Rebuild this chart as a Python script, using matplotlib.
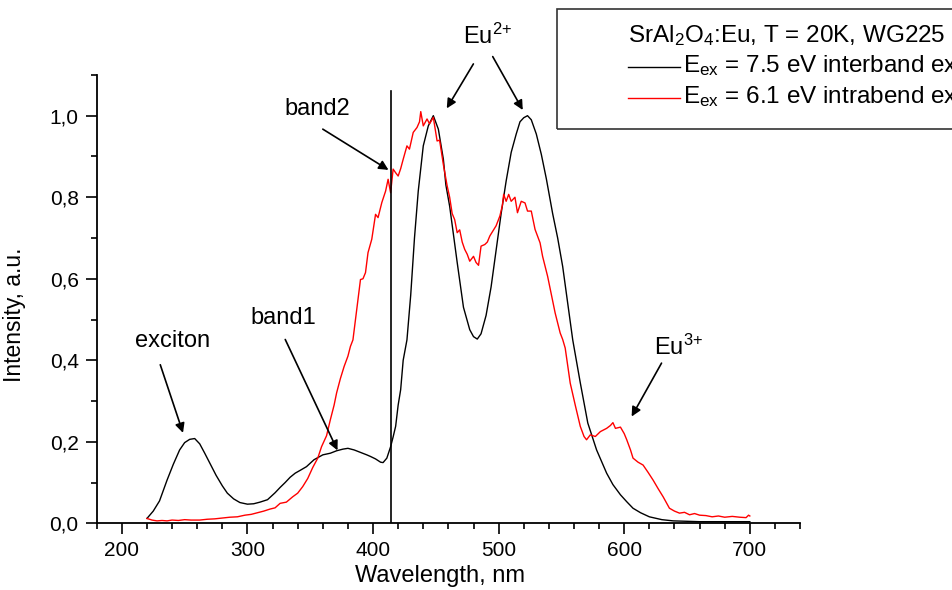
import numpy as np
import matplotlib
matplotlib.use("Agg")
import matplotlib.pyplot as plt
from matplotlib.patches import Rectangle
from matplotlib.lines import Line2D
from matplotlib.ticker import MultipleLocator, FuncFormatter

plt.rcParams['font.family'] = ['Liberation Sans', 'DejaVu Sans']
plt.rcParams['mathtext.fontset'] = 'custom'
plt.rcParams['mathtext.rm'] = 'Liberation Sans'
plt.rcParams['mathtext.it'] = 'Liberation Sans:italic'

# interband excitation, 7.5 eV (black)
wl_inter = [220, 225, 230, 236, 241, 246, 250, 254, 258, 262, 266, 270, 275, 280, 284,
            289, 294, 300, 305, 310, 316, 322, 326, 330, 334, 338, 342, 347, 353, 360,
            366, 371, 376, 380, 385, 390, 395, 398, 402, 406, 408, 411, 414, 416, 418,
            420, 422, 424, 427, 430, 433, 436, 440, 444, 448, 452, 456, 458, 461, 467,
            472, 477, 480, 483, 486, 490, 494, 498, 502, 506, 510, 514, 517, 520, 523,
            526, 530, 534, 538, 543, 547, 551, 555, 559, 565, 571, 578, 586, 591, 597,
            602, 607, 613, 620, 630, 639, 650, 660, 680, 700]
int_inter = [0.012, 0.030, 0.055, 0.106, 0.145, 0.180, 0.198, 0.206, 0.208, 0.195, 0.172, 0.148,
             0.118, 0.092, 0.074, 0.060, 0.051, 0.047, 0.048, 0.052, 0.058, 0.075, 0.088, 0.100,
             0.113, 0.123, 0.130, 0.139, 0.156, 0.168, 0.172, 0.178, 0.182, 0.184, 0.180, 0.174,
             0.168, 0.164, 0.158, 0.150, 0.149, 0.160, 0.188, 0.212, 0.238, 0.290, 0.328, 0.400,
             0.450, 0.560, 0.700, 0.815, 0.926, 0.975, 1.000, 0.967, 0.893, 0.830, 0.778, 0.640,
             0.530, 0.475, 0.458, 0.452, 0.465, 0.510, 0.580, 0.670, 0.760, 0.840, 0.910, 0.955,
             0.985, 0.995, 1.000, 0.990, 0.955, 0.905, 0.845, 0.760, 0.700, 0.630, 0.540, 0.450,
             0.345, 0.246, 0.180, 0.123, 0.095, 0.070, 0.053, 0.037, 0.026, 0.016, 0.009, 0.006,
             0.005, 0.004, 0.004, 0.004]

# intraband excitation, 6.1 eV (red)
wl_intra = [220, 224, 228, 232, 236, 240, 245, 250, 255, 262, 268, 274, 280, 286, 292, 298,
            303, 308, 313, 318, 322, 326, 331, 336, 340, 344, 348, 352, 356, 359, 363, 366,
            369, 371, 374, 377, 380, 382, 384, 386, 388, 390, 392, 394, 396, 399, 402, 404,
            407, 410, 412, 414, 416, 418, 420, 422, 424, 427, 429, 432, 435, 437, 438, 440,
            443, 445, 448, 451, 453, 456, 459, 461, 463, 465, 467, 469, 471, 473, 475, 477,
            480, 482, 484, 486, 489, 491, 493, 496, 498, 501, 503, 504, 506, 508, 510, 513,
            515, 518, 521, 523, 526, 529, 533, 535, 539, 542, 545, 549, 551, 553, 557, 561,
            565, 568, 570, 573, 577, 581, 586, 589, 591, 593, 597, 600, 602, 605, 607, 611,
            615, 619, 623, 627, 631, 634, 636, 640, 644, 648, 652, 656, 660, 665, 670, 675,
            680, 686, 692, 697, 699, 700]
int_intra = [0.012, 0.008, 0.006, 0.007, 0.006, 0.008, 0.007, 0.009, 0.008, 0.008, 0.010, 0.011,
             0.013, 0.015, 0.016, 0.020, 0.022, 0.026, 0.030, 0.035, 0.038, 0.049, 0.052, 0.065,
             0.074, 0.090, 0.110, 0.137, 0.160, 0.188, 0.215, 0.254, 0.290, 0.320, 0.355, 0.385,
             0.410, 0.434, 0.450, 0.500, 0.550, 0.598, 0.600, 0.615, 0.664, 0.697, 0.758, 0.750,
             0.787, 0.815, 0.844, 0.811, 0.869, 0.860, 0.852, 0.870, 0.893, 0.926, 0.918, 0.959,
             0.971, 0.985, 1.010, 0.975, 0.992, 0.980, 0.996, 0.938, 0.940, 0.880, 0.828, 0.800,
             0.760, 0.745, 0.713, 0.720, 0.690, 0.672, 0.660, 0.643, 0.655, 0.640, 0.633, 0.680,
             0.684, 0.690, 0.705, 0.720, 0.730, 0.754, 0.780, 0.807, 0.790, 0.807, 0.790, 0.800,
             0.762, 0.790, 0.786, 0.766, 0.766, 0.721, 0.688, 0.655, 0.606, 0.561, 0.516, 0.467,
             0.451, 0.430, 0.344, 0.290, 0.238, 0.213, 0.205, 0.217, 0.213, 0.225, 0.233, 0.240,
             0.247, 0.233, 0.236, 0.220, 0.205, 0.180, 0.160, 0.150, 0.143, 0.125, 0.106, 0.085,
             0.065, 0.048, 0.037, 0.030, 0.025, 0.027, 0.021, 0.024, 0.020, 0.019, 0.016, 0.018,
             0.015, 0.017, 0.015, 0.014, 0.020, 0.018]

marker_wl = 414

fig = plt.figure(figsize=(9.52, 5.90), dpi=100)
ax = fig.add_axes([0.1016, 0.113, 0.7388, 0.760])

ax.plot(wl_inter, int_inter, color='black', lw=1.0)
ax.plot(wl_intra, int_intra, color='red', lw=1.0)
ax.plot([marker_wl, marker_wl], [0, 1.06], color='black', lw=1.2)

ax.set_xlim(180, 740)
ax.set_ylim(0, 1.1)
ax.spines['top'].set_visible(False)
ax.spines['right'].set_visible(False)
for s in ['left', 'bottom']:
    ax.spines[s].set_linewidth(1.3)

ax.xaxis.set_major_locator(MultipleLocator(100))
ax.xaxis.set_minor_locator(MultipleLocator(20))
ax.yaxis.set_major_locator(MultipleLocator(0.2))
ax.yaxis.set_minor_locator(MultipleLocator(0.1))
ax.yaxis.set_major_formatter(FuncFormatter(lambda v, p: f"{v:.1f}".replace('.', ',')))
ax.tick_params(which='major', direction='out', length=8, width=1.2, labelsize=15, pad=5)
ax.tick_params(which='minor', direction='out', length=4, width=1.2)

ax.set_xlabel("Wavelength, nm", fontsize=17)
ax.set_ylabel("Intensity, a.u.", fontsize=16.5)
ax.xaxis.set_label_coords(0.488, -0.092)
ax.yaxis.set_label_coords(-0.1, 0.465)

arrow = dict(arrowstyle='-|>', color='black', lw=1.2, mutation_scale=14, shrinkA=0, shrinkB=0)
ax.text(240, 0.448, "exciton", fontsize=17, ha='center', va='center')
ax.annotate('', xy=(248.7, 0.222), xytext=(230.6, 0.389), arrowprops=arrow)
ax.text(328.5, 0.504, "band1", fontsize=17, ha='center', va='center')
ax.annotate('', xy=(371.7, 0.179), xytext=(330.1, 0.451), arrowprops=arrow)
ax.text(355.3, 1.016, "band2", fontsize=17, ha='center', va='center')
ax.annotate('', xy=(412.3, 0.867), xytext=(360, 0.967), arrowprops=arrow)
ax.text(471.6, 1.176, r"Eu$^{2\!+}$", fontsize=17, ha='left', va='baseline')
ax.annotate('', xy=(458.7, 1.018), xytext=(479.9, 1.127), arrowprops=arrow, annotation_clip=False)
ax.annotate('', xy=(519.2, 1.014), xytext=(495.3, 1.145), arrowprops=arrow, annotation_clip=False)
ax.text(623.6, 0.414, r"Eu$^{3\!+}$", fontsize=17, ha='left', va='baseline')
ax.annotate('', xy=(605.9, 0.262), xytext=(629.7, 0.393), arrowprops=arrow)

# legend box, cut off by the right edge as in the original
W, H = 952.0, 590.0
fig.add_artist(Rectangle((557 / W, 1 - 129 / H), 500 / W, 120 / H, transform=fig.transFigure,
                         fill=False, edgecolor='#333333', lw=1.2))
fig.text(628 / W, 1 - 41.7 / H, r"SrAl$_2$O$_4$:Eu, T = 20K, WG225 filter",
         fontsize=17.5, va='baseline')
fig.add_artist(Line2D([628 / W, 680 / W], [1 - 66.7 / H, 1 - 66.7 / H],
                      transform=fig.transFigure, color='black', lw=1.0))
fig.add_artist(Line2D([628 / W, 680 / W], [1 - 98.3 / H, 1 - 98.3 / H],
                      transform=fig.transFigure, color='red', lw=1.0))
fig.text(683 / W, 1 - 71.7 / H, r"E$_\mathrm{ex}$ = 7.5 eV interband excitation",
         fontsize=17.5, va='baseline')
fig.text(683 / W, 1 - 103.3 / H, r"E$_\mathrm{ex}$ = 6.1 eV intrabend excitation",
         fontsize=17.5, va='baseline')

fig.savefig("out.png", dpi=100)
